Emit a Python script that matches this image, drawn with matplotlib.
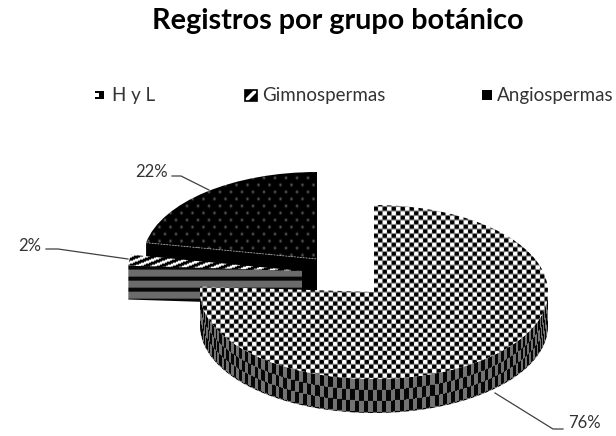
import numpy as np
import matplotlib
matplotlib.use("Agg")
import matplotlib.pyplot as plt
from matplotlib.patches import Wedge, Polygon, Rectangle
from matplotlib.transforms import Affine2D

title = "Registros por grupo botánico"
groups = ["H y L", "Gimnospermas", "Angiospermas"]
shares = [76, 2, 22]
share_labels = ["76%", "2%", "22%"]

W, H = 616, 436
RX, RY, DEPTH = 174, 87, 34
centers = [(374, 292), (302, 271), (317, 259)]

plt.rcParams["font.family"] = ["Lato", "DejaVu Sans"]

fig = plt.figure(figsize=(W / 100, H / 100), dpi=100)
ax = fig.add_axes([0, 0, 1, 1])
ax.set_xlim(0, W)
ax.set_ylim(H, 0)
ax.axis("off")

xx, yy = np.meshgrid(np.arange(W) + 0.5, np.arange(H) + 0.5)


def show(tex, patch, z):
    im = ax.imshow(tex, cmap="gray", vmin=0, vmax=1, extent=(0, W, H, 0),
                   interpolation="bilinear", aspect="auto", zorder=z)
    im.set_clip_path(patch)


def clock(c, a, down=0):
    # point on the rim, a in degrees clockwise from 12 o'clock
    a = np.radians(a)
    return c[0] + RX * np.sin(a), c[1] - RY * np.cos(a) + down


def top_face(c, a1, a2, z):
    tr = Affine2D().scale(RX, -RY).translate(*c) + ax.transData
    p = Wedge((0, 0), 1, 90 - a2, 90 - a1, transform=tr, fc="none", ec="none", zorder=z)
    ax.add_patch(p)
    return p


def cut_face(c, a, z):
    tip = clock(c, a)
    pts = [tip, c, (c[0], c[1] + DEPTH), (tip[0], tip[1] + DEPTH)]
    p = Polygon(pts, fc="none", ec="none", zorder=z)
    ax.add_patch(p)
    return p


# textures
checker = np.sin(np.pi * xx / 4.5) * np.sin(np.pi * yy / 4.5)
checker = np.clip(0.5 + 1.6 * checker, 0, 1)

row = yy // 7
cx_ = (xx + 5.5 * (row % 2)) % 11
cy_ = yy % 7
dots = 0.42 * np.exp(-((cx_ - 5.5) ** 2 + (cy_ - 3.5) ** 2) / 1.6)

diag = (((xx + 2.5 * yy) % 16) < 7.5).astype(float) * 0.97

bands = np.where((yy - 266.5) % 11 < 3.2, 0.03, 0.42)

# wedge angles come from the shares
a_hyl = 360 * shares[0] / 100
a_gim = a_hyl + 360 * shares[1] / 100

# Angiospermas
p = cut_face(centers[2], a_gim, 1)
show(np.zeros((H, W)), p, 1)
p = top_face(centers[2], a_gim, 360, 2)
show(dots, p, 2)
tip = clock(centers[2], a_gim)
ax.plot([tip[0], centers[2][0]], [tip[1], centers[2][1]], color="0.6", lw=0.7, ls=(0, (1.5, 1.5)), zorder=3)

# Gimnospermas
p = cut_face(centers[1], a_hyl, 4)
show(bands, p, 4)
p = top_face(centers[1], a_hyl, a_gim, 5)
show(diag, p, 5)

# H y L: outer wall first, then top
c = centers[0]
arc = np.linspace(90, 270, 120)
upper = np.array([clock(c, a) for a in arc])
lower = np.array([clock(c, a, DEPTH) for a in arc[::-1]])
wall = Polygon(np.vstack([upper, lower]), fc="none", ec="none", zorder=6)
ax.add_patch(wall)
dx = np.clip((xx - c[0]) / RX, -1, 1)
u = RX * np.arccos(dx)
v = yy - (c[1] + RY * np.sqrt(1 - dx ** 2))
wall_tex = (u // 4.5 + v // 11) % 2
wall_tex = np.where(wall_tex > 0, 0.45, 0.03)
show(wall_tex, wall, 6)
p = top_face(c, 0, a_hyl, 7)
show(checker, p, 7)

# leader lines
line = dict(color="0.25", lw=0.9, zorder=8)
ax.plot([495, 553, 563], [393, 429, 429], **line)
ax.plot([46, 58, 128], [249, 249, 259], **line)
ax.plot([172, 181, 209], [176, 176, 190], **line)

txt = dict(fontsize=12, color="#333333", va="center")
ax.text(568, 423, share_labels[0], **txt)
ax.text(18, 246, share_labels[1], **txt)
ax.text(135, 172, share_labels[2], **txt)

# legend
leg = dict(fontsize=13.5, color="#333333", va="center")
ax.text(112, 95, groups[0], **leg)
ax.text(262, 95, groups[1], **leg)
ax.text(497, 95, groups[2], **leg)
ax.add_patch(Rectangle((95, 91), 9, 8, fc="black", ec="none"))
ax.add_patch(Rectangle((94, 93), 5, 4, fc="white", ec="none"))
ax.add_patch(Rectangle((245, 90), 12, 11, fc="white", ec="black", lw=1.2))
ax.add_patch(Polygon([(245, 90), (254, 90), (245, 99)], fc="black", ec="none"))
ax.add_patch(Polygon([(257, 101), (248, 101), (257, 92)], fc="black", ec="none"))
ax.add_patch(Rectangle((482, 90), 10, 10, fc="black", ec="none"))

ax.text(338, 21, title, fontsize=20.7, fontweight="bold", color="black", ha="center", va="center")

fig.savefig("out.png", dpi=100)
